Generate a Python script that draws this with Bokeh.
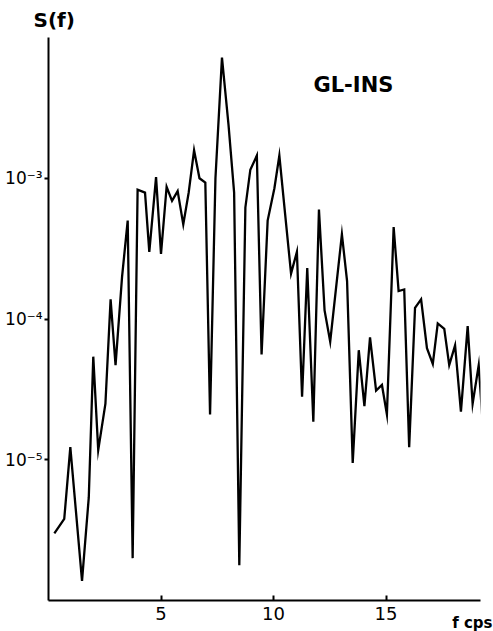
from bokeh.plotting import figure
from bokeh.models import Range1d, FixedTicker, Label, Title
from bokeh.embed import file_html
from bokeh.resources import INLINE

# frequency (cps) and spectral density S(f)
freq = [0.26, 0.70, 0.97, 1.49, 1.79, 1.99, 2.21, 2.53, 2.76, 2.98,
        3.27, 3.52, 3.74, 3.96, 4.29, 4.48, 4.78, 5.00, 5.25, 5.49,
        5.74, 5.99, 6.23, 6.47, 6.71, 6.97, 7.18, 7.42, 7.71, 8.00,
        8.25, 8.48, 8.75, 8.97, 9.26, 9.47, 9.74, 10.04, 10.26, 10.52,
        10.78, 11.04, 11.27, 11.50, 11.77, 12.02, 12.27, 12.52, 13.04, 13.27,
        13.52, 13.79, 14.04, 14.29, 14.56, 14.82, 15.04, 15.34, 15.56, 15.81,
        16.03, 16.29, 16.56, 16.82, 17.08, 17.30, 17.59, 17.81, 18.07, 18.33,
        18.63, 18.85, 19.12, 19.27]
spectrum = [3.0e-6, 3.8e-6, 1.23e-5, 1.38e-6, 5.4e-6, 5.4e-5, 1.17e-5, 2.5e-5, 1.38e-4, 4.7e-5,
            2.0e-4, 5.0e-4, 2.0e-6, 8.3e-4, 7.9e-4, 3.0e-4, 1.02e-3, 2.9e-4, 8.7e-4, 6.9e-4,
            8.1e-4, 4.7e-4, 7.9e-4, 1.58e-3, 1.0e-3, 9.3e-4, 2.1e-5, 1.0e-3, 7.2e-3, 2.4e-3,
            7.9e-4, 1.78e-6, 6.2e-4, 1.15e-3, 1.45e-3, 5.6e-5, 5.0e-4, 8.5e-4, 1.45e-3, 5.5e-4,
            2.1e-4, 3.0e-4, 2.8e-5, 2.3e-4, 1.86e-5, 6.0e-4, 1.15e-4, 6.9e-5, 4.0e-4, 1.86e-4,
            9.5e-6, 6.0e-5, 2.4e-5, 7.4e-5, 3.1e-5, 3.4e-5, 2.1e-5, 4.5e-4, 1.58e-4, 1.62e-4,
            1.23e-5, 1.2e-4, 1.38e-4, 6.2e-5, 4.8e-5, 9.3e-5, 8.5e-5, 4.7e-5, 6.5e-5, 2.2e-5,
            8.9e-5, 2.5e-5, 4.7e-5, 2.1e-5]

x_ticks = [5, 10, 15]
y_ticks = [1e-5, 1e-4, 1e-3]
y_tick_labels = ["10\u207b\u2075", "10\u207b\u2074", "10\u207b\u00b3"]

FONT = "DejaVu Sans"

p = figure(width=493, height=631, y_axis_type="log",
           x_range=Range1d(0, 19.2), y_range=Range1d(1e-6, 1e-2),
           output_backend="svg", toolbar_location=None,
           min_border_left=48, min_border_right=13,
           min_border_top=35, min_border_bottom=31)

p.line(freq, spectrum, line_color="black", line_width=2.3, line_join="miter")

p.outline_line_color = None
p.xgrid.visible = False
p.ygrid.visible = False
p.background_fill_color = "white"
p.border_fill_color = "white"

# title S(f) at top-left
p.title.text = "S(f)"
p.title.align = "left"
p.title.offset = -15
p.title.text_font = FONT
p.title.text_font_size = "20px"
p.title.text_font_style = "bold"
p.title.text_color = "black"
p.title.standoff = 11

# x axis
p.xaxis.ticker = FixedTicker(ticks=x_ticks)
p.xaxis.axis_line_width = 2
p.xaxis.major_tick_line_width = 2
p.xaxis.major_tick_in = 5
p.xaxis.major_tick_out = 0
p.xaxis.minor_tick_line_color = None
p.xaxis.major_label_text_font = FONT
p.xaxis.major_label_text_font_size = "18px"
p.xaxis.major_label_text_color = "black"
p.xaxis.major_label_standoff = 6

# x-axis unit label, right-aligned below the axis
p.add_layout(Title(text="f cps", align="right", vertical_align="top",
                   offset=-12, standoff=-18,
                   text_font=FONT, text_font_size="15px", text_font_style="bold",
                   text_color="black"), "below")

# y axis (log)
p.yaxis.ticker = FixedTicker(ticks=y_ticks)
p.yaxis.major_label_overrides = {t: s for t, s in zip(y_ticks, y_tick_labels)}
p.yaxis.axis_line_width = 2
p.yaxis.major_tick_line_width = 2
p.yaxis.major_tick_in = 0
p.yaxis.major_tick_out = 4
p.yaxis.minor_tick_line_color = None
p.yaxis.major_label_text_font = FONT
p.yaxis.major_label_text_font_size = "17px"
p.yaxis.major_label_text_color = "black"
p.yaxis.major_label_standoff = 2

p.add_layout(Label(x=265, y=504, x_units="screen", y_units="screen", text="GL-INS",
                   text_align="left", text_baseline="bottom",
                   text_font=FONT, text_font_size="21px", text_font_style="bold",
                   text_color="black"))

open("out.html", "w").write(file_html(p, INLINE))
